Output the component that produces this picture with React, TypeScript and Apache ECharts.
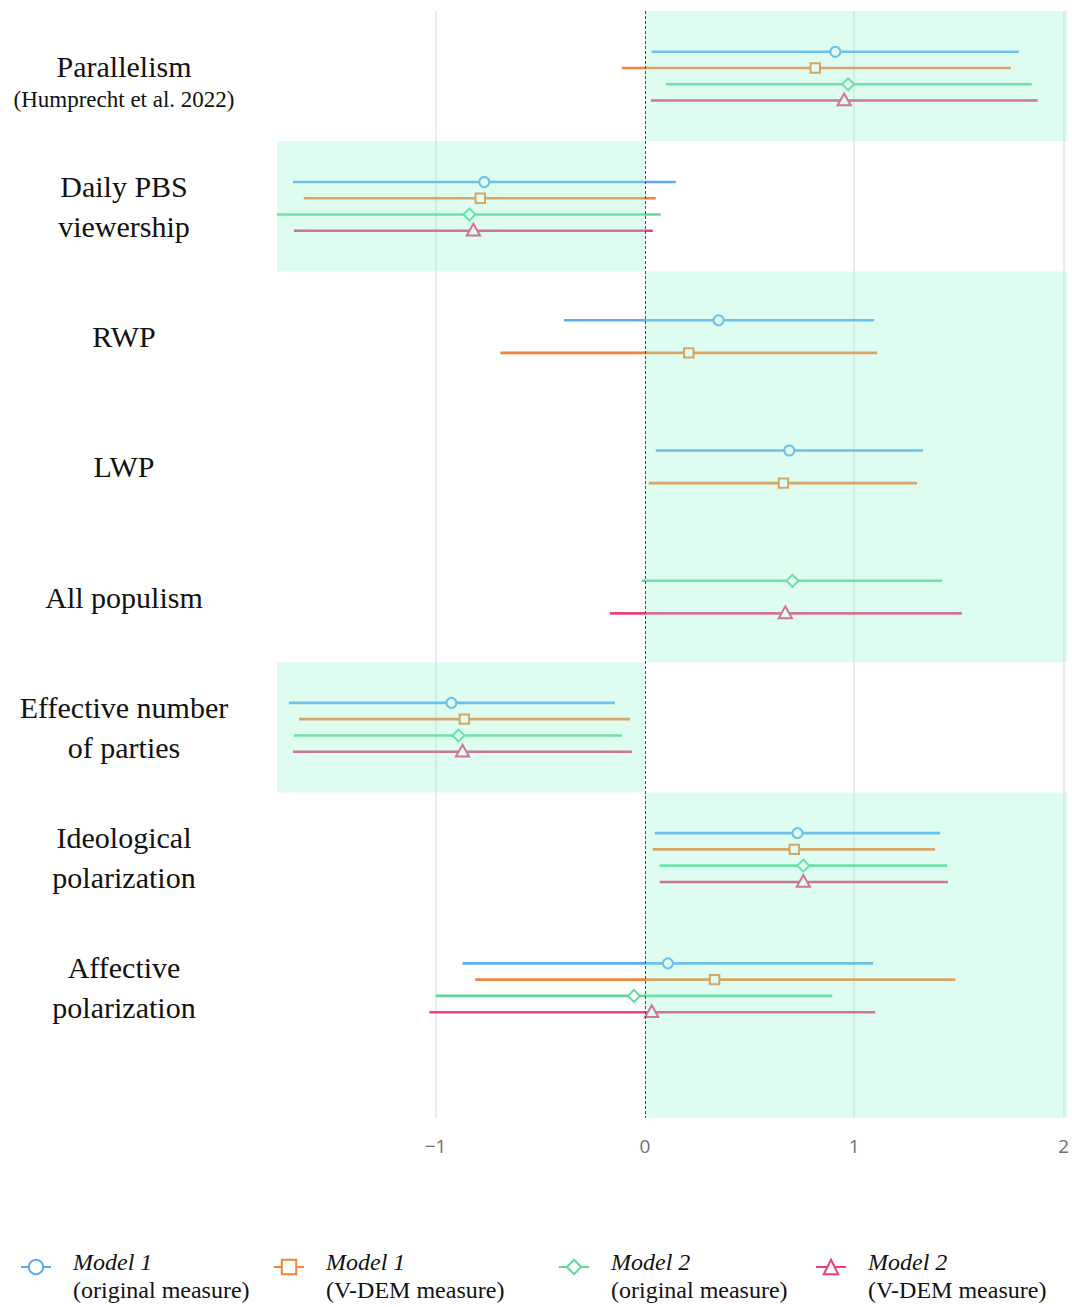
import React, { useEffect, useRef } from 'react';
import * as echarts from 'echarts';

// ---------- data ----------
const categoryLabels = [
  '{a|Parallelism}\n{b|(Humprecht et al. 2022)}',
  'Daily PBS\nviewership',
  'RWP',
  'LWP',
  'All populism',
  'Effective number\nof parties',
  'Ideological\npolarization',
  'Affective\npolarization',
];

const seriesNames = [
  'Model 1 (original measure)',
  'Model 1 (V-DEM measure)',
  'Model 2 (original measure)',
  'Model 2 (V-DEM measure)',
];

// point estimates, lower and upper bounds per category (null = not estimated)
const m1OrigEst = [0.910, -0.767, 0.352, 0.690, null, -0.924, 0.729, 0.110];
const m1OrigLo = [0.033, -1.681, -0.386, 0.052, null, -1.700, 0.048, -0.871];
const m1OrigHi = [1.786, 0.148, 1.095, 1.329, null, -0.143, 1.410, 1.090];

const m1VdemEst = [0.814, -0.786, 0.210, 0.662, null, -0.862, 0.714, 0.333];
const m1VdemLo = [-0.110, -1.629, -0.690, 0.019, null, -1.652, 0.038, -0.810];
const m1VdemHi = [1.748, 0.052, 1.110, 1.300, null, -0.071, 1.386, 1.483];

const m2OrigEst = [0.971, -0.838, null, null, 0.705, -0.890, 0.757, -0.052];
const m2OrigLo = [0.100, -1.757, null, null, -0.014, -1.676, 0.071, -0.998];
const m2OrigHi = [1.848, 0.076, null, null, 1.419, -0.110, 1.443, 0.895];

const m2VdemEst = [0.952, -0.819, null, null, 0.671, -0.871, 0.757, 0.033];
const m2VdemLo = [0.029, -1.676, null, null, -0.167, -1.681, 0.071, -1.029];
const m2VdemHi = [1.876, 0.038, null, null, 1.514, -0.062, 1.448, 1.100];

// direction of the shaded half for each category (+1: right of 0, -1: left of 0)
const shadeDirection = [1, -1, 1, 1, 1, -1, 1, 1];

const xTicks = [-1, 0, 1, 2];
const xMin = -1.757;
const xMax = 2.019;
const yMin = -0.5;
const yMax = 8;

// ---------- styles ----------
const colors = ['#5eabf3', '#f2843a', '#5fd89a', '#ea3f80'];
const shapes = ['circle', 'rect', 'diamond', 'triangle'];
const legendSymbols = ['emptyCircle', 'emptyRect', 'emptyDiamond', 'emptyTriangle'];
const legendLefts = [20, 273, 558, 815];
const serifFont = '"Liberation Serif", "DejaVu Serif", serif';

const allSeries = [
  [m1OrigEst, m1OrigLo, m1OrigHi],
  [m1VdemEst, m1VdemLo, m1VdemHi],
  [m2OrigEst, m2OrigLo, m2OrigHi],
  [m2VdemEst, m2VdemLo, m2VdemHi],
];

function buildData() {
  const out: any[][] = allSeries.map(() => []);
  for (let c = 0; c < categoryLabels.length; c++) {
    const present: number[] = [];
    allSeries.forEach((s, k) => {
      if (s[0][c] !== null) present.push(k);
    });
    const n = present.length;
    const step = 0.5 / n;
    present.forEach((k, j) => {
      const off = (j - (n - 1) / 2) * step;
      out[k].push([c, allSeries[k][0][c], allSeries[k][1][c], allSeries[k][2][c], off]);
    });
  }
  return out;
}

function buildRuns() {
  const runs: number[][] = [];
  shadeDirection.forEach((d, i) => {
    const last = runs[runs.length - 1];
    if (last && last[2] === d) last[1] = i + 0.5;
    else runs.push([i - 0.5, i + 0.5, d]);
  });
  runs[0][0] = yMin;
  runs[runs.length - 1][1] = yMax;
  return runs;
}

function makeRender(color: string, shape: string) {
  return (params: any, api: any) => {
    const y = api.value(0) + api.value(4);
    const a = api.coord([api.value(2), y]);
    const b = api.coord([api.value(3), y]);
    const c = api.coord([api.value(1), y]);
    const cx = c[0];
    const cy = c[1];
    const mstyle = { fill: '#fff', stroke: color, lineWidth: 2 };
    let marker: any;
    if (shape === 'circle') {
      marker = { type: 'circle', shape: { cx, cy, r: 5 }, style: mstyle };
    } else if (shape === 'rect') {
      marker = { type: 'rect', shape: { x: cx - 4.7, y: cy - 4.7, width: 9.4, height: 9.4 }, style: mstyle };
    } else if (shape === 'diamond') {
      marker = {
        type: 'polygon',
        shape: { points: [[cx, cy - 6], [cx + 6, cy], [cx, cy + 6], [cx - 6, cy]] },
        style: mstyle,
      };
    } else {
      marker = {
        type: 'polygon',
        shape: { points: [[cx, cy - 7], [cx + 6.6, cy + 4.8], [cx - 6.6, cy + 4.8]] },
        style: mstyle,
      };
    }
    return {
      type: 'group',
      children: [
        {
          type: 'line',
          shape: { x1: a[0], y1: a[1], x2: b[0], y2: b[1] },
          style: { stroke: color, lineWidth: 2.6 },
        },
        marker,
      ],
    };
  };
}

export default function App() {
  const ref = useRef<HTMLDivElement>(null);

  useEffect(() => {
    document.body.style.margin = '0';
    if (!ref.current) return;
    const chart = echarts.init(ref.current, null, { renderer: 'svg' });
    const data = buildData();
    const runs = buildRuns();

    const legendSeries = seriesNames.map((name, k) => ({
      type: 'line',
      name,
      data: [],
      symbol: legendSymbols[k],
      symbolSize: 14,
      lineStyle: { color: colors[k], width: 2.6 },
      itemStyle: { color: colors[k] },
    }));

    const barSeries = seriesNames.map((name, k) => ({
      type: 'custom',
      name,
      z: 2,
      data: data[k],
      encode: { x: [1, 2, 3], y: 0 },
      renderItem: makeRender(colors[k], shapes[k]),
      silent: true,
      markLine:
        k === 0
          ? {
              silent: true,
              symbol: ['none', 'none'],
              z: 5,
              label: { show: false },
              lineStyle: { color: '#4a4a4a', width: 1, type: [3, 2] },
              data: [{ xAxis: 0 }],
            }
          : undefined,
    }));

    const shadeSeries = {
      type: 'custom',
      name: 'shade',
      z: 3,
      silent: true,
      data: runs,
      encode: { y: [0, 1] },
      renderItem: (params: any, api: any) => {
        const cs = params.coordSys;
        const x0 = api.coord([0, 0])[0];
        const yA = api.coord([0, api.value(0)])[1];
        const yB = api.coord([0, api.value(1)])[1];
        const top = Math.min(yA, yB);
        const h = Math.abs(yB - yA);
        const right = api.value(2) > 0;
        const left = right ? x0 : cs.x;
        const rr = right ? cs.x + cs.width : x0;
        return {
          type: 'rect',
          shape: { x: left, y: top, width: rr - left, height: h },
          style: { fill: 'rgba(145,245,205,0.3)' },
        };
      },
      markLine: {
        silent: true,
        symbol: ['none', 'none'],
        z: 1,
        label: { show: false },
        lineStyle: { color: '#e4e4e4', width: 1.5, type: 'solid' },
        data: xTicks.filter((t) => t !== 0).map((t) => ({ xAxis: t })),
      },
    };

    const legends = seriesNames.map((name, k) => ({
      data: [name],
      left: legendLefts[k],
      top: 1250,
      padding: 0,
      itemWidth: 30,
      itemHeight: 18,
      selectedMode: false,
      formatter: (n: string) => {
        const i = n.indexOf(' (');
        return '{a|' + n.slice(0, i) + '}\n{b|' + n.slice(i + 1) + '}';
      },
      textStyle: {
        fontFamily: serifFont,
        fontSize: 24,
        color: '#111',
        padding: [18, 0, 0, 17],
        rich: {
          a: { fontFamily: serifFont, fontSize: 24, fontStyle: 'italic', lineHeight: 28, color: '#111' },
          b: { fontFamily: serifFont, fontSize: 24, lineHeight: 28, color: '#111' },
        },
      },
    }));

    chart.setOption({
      animation: false,
      backgroundColor: '#ffffff',
      grid: { left: 277, right: 2, top: 11, bottom: 189 },
      legend: legends,
      xAxis: {
        type: 'value',
        min: xMin,
        max: xMax,
        axisLine: { show: false },
        axisTick: { show: false },
        splitLine: { show: false },
        axisLabel: {
          customValues: xTicks,
          margin: 18,
          fontFamily: '"Open Sans", "Noto Sans", sans-serif',
          fontSize: 19,
          color: '#6e6e6e',
          formatter: (v: number) => (v < 0 ? '\u2212' + Math.abs(v) : String(v)),
        },
      },
      yAxis: {
        type: 'value',
        min: yMin,
        max: yMax,
        inverse: true,
        axisLine: { show: false },
        axisTick: { show: false },
        splitLine: { show: false },
        axisLabel: {
          customValues: categoryLabels.map((_, i) => i),
          formatter: (v: number) => categoryLabels[Math.round(v)] ?? '',
          align: 'center',
          margin: 153,
          fontFamily: serifFont,
          fontSize: 30,
          lineHeight: 40,
          color: '#111',
          rich: {
            a: { fontFamily: serifFont, fontSize: 30, lineHeight: 46, color: '#111' },
            b: { fontFamily: serifFont, fontSize: 23, lineHeight: 20, color: '#111' },
          },
        },
      },
      series: [...legendSeries, ...barSeries, shadeSeries],
    });

    return () => chart.dispose();
  }, []);

  return <div ref={ref} style={{ width: '1072px', height: '1307px' }} />;
}
